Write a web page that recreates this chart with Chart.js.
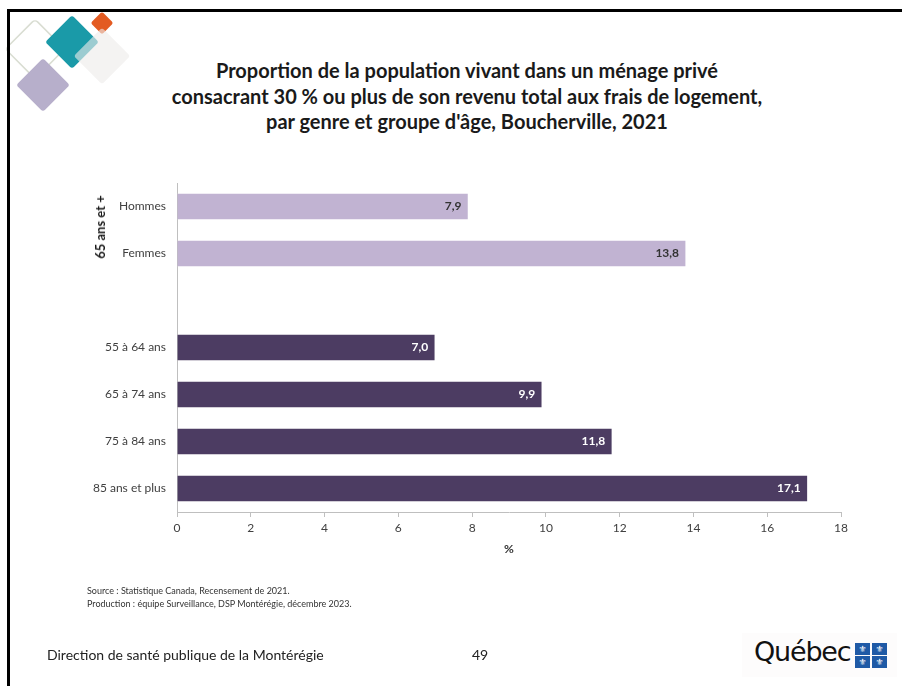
<!DOCTYPE html>
<html lang="fr">
<head>
<meta charset="utf-8">
<script src="https://cdn.jsdelivr.net/npm/chart.js@4.4.1/dist/chart.umd.min.js"></script>
<style>
  html, body { margin: 0; padding: 0; background: #fff; }
  body { width: 902px; height: 686px; position: relative; overflow: hidden; font-family: Lato, "Open Sans", sans-serif; }
  #chart { position: absolute; left: 0; top: 0; }
  .frame-top { position: absolute; left: 7px; top: 9px; width: 900px; height: 3px; background: #000; }
  .frame-left { position: absolute; left: 7px; top: 9px; width: 3px; height: 690px; background: #000; }
  .title { position: absolute; left: 167px; width: 600px; top: 58px; text-align: center; font-weight: bold; font-size: 20px; line-height: 25.5px; color: #1a1a1a; }
  .group { position: absolute; left: 100px; top: 227px; transform: translate(-50%, -50%) rotate(-90deg); font-weight: bold; font-size: 13px; color: #1a1a1a; white-space: nowrap; }
  .source { position: absolute; left: 87px; top: 585px; font-size: 9px; line-height: 12.5px; color: #333; }
  .footer { position: absolute; left: 47px; top: 646px; font-size: 14px; color: #222; }
  .page { position: absolute; left: 472px; top: 646px; font-size: 14px; color: #222; }
  .qc { position: absolute; left: 742px; top: 633px; width: 155px; height: 44px; background: #fdfcfc; }
  .qc .word { position: absolute; left: 12px; top: 3px; font-family: "DejaVu Sans", sans-serif; font-size: 27px; color: #111; letter-spacing: -1.2px; }
  .qc .flag { position: absolute; left: 113px; top: 10px; width: 32px; height: 25px; display: grid; grid-template-columns: 15px 15px; grid-template-rows: 12px 12px; gap: 1px 2px; }
  .qc .flag span { background: #1f5aa6; color: #fff; font-size: 9px; line-height: 12px; text-align: center; font-family: "DejaVu Sans", sans-serif; }
</style>
</head>
<body>
<svg width="140" height="120" style="position:absolute;left:0;top:0">
  <rect x="-21" y="-21" width="42" height="42" rx="4" transform="translate(35,49) rotate(45)" fill="none" stroke="#d9ddd2" stroke-width="1.5"/>
  <rect x="-19" y="-19" width="38" height="38" rx="3" transform="translate(43,85) rotate(45)" fill="#b7afcb"/>
  <rect x="-19" y="-19" width="38" height="38" rx="3" transform="translate(72,42) rotate(45)" fill="#1a9aa8"/>
  <rect x="-8" y="-8" width="16" height="16" rx="2" transform="translate(102,23) rotate(45)" fill="#e35b22"/>
  <rect x="-20" y="-20" width="40" height="40" rx="3" transform="translate(102,56) rotate(45)" fill="#eeebea" fill-opacity="0.62"/>
</svg>
<div class="frame-top"></div>
<div class="frame-left"></div>
<div class="title">Proportion de la population vivant dans un ménage privé<br>consacrant 30 % ou plus de son revenu total aux frais de logement,<br>par genre et groupe d'âge, Boucherville, 2021</div>
<canvas id="chart" width="902" height="686"></canvas>
<div class="group">65 ans et +</div>
<div class="source">Source : Statistique Canada, Recensement de 2021.<br>Production : équipe Surveillance, DSP Montérégie, décembre 2023.</div>
<div class="footer">Direction de santé publique de la Montérégie</div>
<div class="page">49</div>
<div class="qc"><div class="word">Québec</div><div class="flag"><span>⚜</span><span>⚜</span><span>⚜</span><span>⚜</span></div></div>
<script>
const categories = ['Hommes', 'Femmes', '', '55 à 64 ans', '65 à 74 ans', '75 à 84 ans', '85 ans et plus'];
const values = [7.9, 13.8, null, 7.0, 9.9, 11.8, 17.1];
const barColors = ['#c1b3d2', '#c1b3d2', '#c1b3d2', '#4c3c62', '#4c3c62', '#4c3c62', '#4c3c62'];
const labelColors = ['#333333', '#333333', '#333333', '#ffffff', '#ffffff', '#ffffff', '#ffffff'];
const xTicks = [0, 2, 4, 6, 8, 10, 12, 14, 16, 18];

const FONT = 'Lato, "Open Sans", sans-serif';

// value labels drawn inside the end of each bar
const valueLabels = {
    id: 'valueLabels',
    afterDatasetsDraw(chart) {
        const ctx = chart.ctx;
        const meta = chart.getDatasetMeta(0);
        ctx.save();
        ctx.font = 'bold 12px ' + FONT;
        ctx.textAlign = 'right';
        ctx.textBaseline = 'middle';
        meta.data.forEach((bar, i) => {
            const v = values[i];
            if (v === null) return;
            ctx.fillStyle = labelColors[i];
            ctx.fillText(v.toFixed(1).replace('.', ','), bar.x - 7, bar.y);
        });
        ctx.restore();
    }
};

new Chart(document.getElementById('chart').getContext('2d'), {
    type: 'bar',
    data: {
        labels: categories,
        datasets: [{
            data: values,
            backgroundColor: barColors,
            borderColor: 'rgba(255,255,255,0.35)',
            borderWidth: 1,
            barThickness: 27
        }]
    },
    options: {
        indexAxis: 'y',
        responsive: false,
        animation: false,
        layout: { padding: { left: 20, right: 61, top: 183, bottom: 128 } },
        plugins: {
            legend: { display: false },
            tooltip: { enabled: false }
        },
        scales: {
            x: {
                min: 0,
                max: 18,
                afterBuildTicks: scale => { scale.ticks = xTicks.map(v => ({ value: v })); },
                afterFit: scale => { scale.height = 46; },
                ticks: { color: '#404040', font: { size: 12, family: FONT }, padding: 4 },
                grid: { drawOnChartArea: false, drawTicks: true, tickLength: 5, color: '#bfbfbf' },
                border: { color: '#bfbfbf' },
                title: { display: true, text: '%', color: '#333333', font: { size: 12, weight: 'bold', family: FONT }, padding: { top: 2, bottom: 2 } }
            },
            y: {
                afterFit: scale => { scale.width = 157; },
                ticks: { color: '#404040', font: { size: 12, family: FONT }, padding: 11 },
                grid: { display: false, drawTicks: false },
                border: { display: true, color: '#bfbfbf' }
            }
        }
    },
    plugins: [valueLabels]
});
</script>
</body>
</html>
